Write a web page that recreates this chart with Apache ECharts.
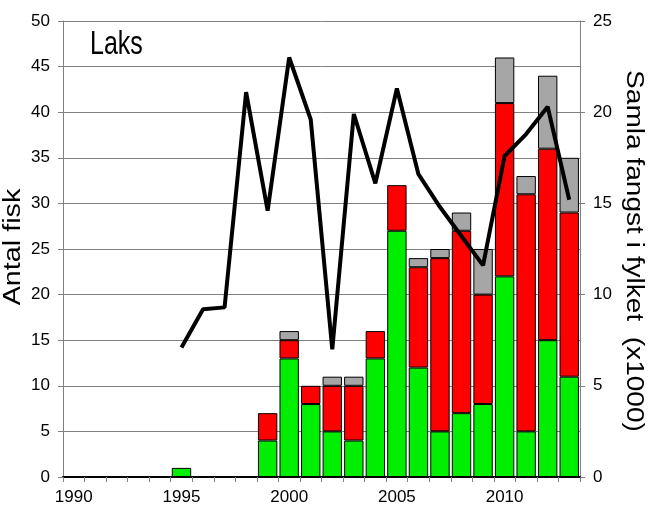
<!DOCTYPE html>
<html>
<head>
<meta charset="utf-8">
<script src="https://cdn.jsdelivr.net/npm/echarts@6/dist/echarts.min.js"></script>
<style>html,body{margin:0;padding:0;background:#fff;}#c{width:649px;height:522px;}</style>
</head>
<body>
<div id="c"></div>
<script>
const years = ['1990','1991','1992','1993','1994','1995','1996','1997','1998','1999','2000','2001','2002','2003','2004','2005','2006','2007','2008','2009','2010','2011','2012','2013'];
const greenVals = [null,null,null,null,null,1,null,null,null,4,13,8,5,4,13,27,12,5,7,8,22,5,15,11];
const redVals   = [null,null,null,null,null,null,null,null,null,3,2,2,5,6,3,5,11,19,20,12,19,26,21,18];
const grayVals  = [null,null,null,null,null,null,null,null,null,null,1,null,1,1,null,null,1,1,2,5,5,2,8,6];
const totalCatch = [null,null,null,null,null,7.1,9.2,9.3,21.1,14.6,23.0,19.6,7.0,19.9,16.1,21.3,16.6,14.8,13.2,11.6,17.6,18.8,20.3,15.2];
const leftTicks = [0,50,5];
const rightTicks = [0,25,5];

const tickFont = "'Liberation Sans', Arial, sans-serif";
const chart = echarts.init(document.getElementById('c'), null, {renderer:'canvas'});
const barStyle = (c) => ({color:c, borderColor:'#000', borderWidth:1});
chart.setOption({
  animation:false,
  grid:{left:63, right:69, top:21, bottom:45, containLabel:false},
  graphic:[
    {type:'text', x:90, y:45, scaleY:1.35, style:{text:'Laks', font:"25px 'Liberation Sans', Arial, sans-serif", fill:'#000', align:'left', verticalAlign:'middle'}},
    {type:'text', x:14, y:247, rotation:Math.PI/2, scaleX:1.25, style:{text:'Antal fisk', font:"23px 'Liberation Sans', Arial, sans-serif", fill:'#000', align:'center', verticalAlign:'middle'}},
    {type:'text', x:633, y:251, rotation:-Math.PI/2, scaleX:1.22, style:{text:'Samla fangst i fylket  (x1000)', font:"23px 'Liberation Sans', Arial, sans-serif", fill:'#000', align:'center', verticalAlign:'middle'}}
  ],
  xAxis:{
    type:'category', data:years, boundaryGap:true,
    axisLine:{lineStyle:{color:'#000', width:2}},
    axisTick:{show:true, interval:0, length:5, lineStyle:{color:'#808080'}},
    axisLabel:{interval:4, color:'#000', fontSize:17, fontFamily:tickFont, margin:12},
    splitLine:{show:false}
  },
  yAxis:[
    {type:'value', min:leftTicks[0], max:leftTicks[1], interval:leftTicks[2],
     axisLine:{show:true, lineStyle:{color:'#808080', width:1}},
     axisTick:{show:true, length:5, lineStyle:{color:'#808080'}},
     axisLabel:{color:'#000', fontSize:17, fontFamily:tickFont, margin:13},
     splitLine:{show:true, lineStyle:{color:'#808080', width:1}}},
    {type:'value', min:rightTicks[0], max:rightTicks[1], interval:rightTicks[2],
     axisLine:{show:true, lineStyle:{color:'#808080', width:1}},
     axisTick:{show:true, length:5, lineStyle:{color:'#808080'}},
     axisLabel:{color:'#000', fontSize:17, fontFamily:tickFont, margin:13},
     splitLine:{show:false}}
  ],
  series:[
    {type:'bar', stack:'a', data:greenVals, barCategoryGap:'10%', itemStyle:barStyle('#00ee00')},
    {type:'bar', stack:'a', data:redVals, itemStyle:barStyle('#ff0000')},
    {type:'bar', stack:'a', data:grayVals, itemStyle:barStyle('#a6a6a6')},
    {type:'line', yAxisIndex:1, data:totalCatch, symbol:'none', z:10, lineStyle:{color:'#000', width:4}}
  ]
});
</script>
</body>
</html>
